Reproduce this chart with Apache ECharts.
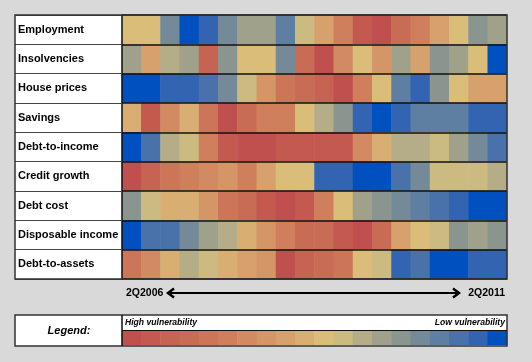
<!DOCTYPE html>
<html><head><meta charset="utf-8">
<script src="https://cdn.jsdelivr.net/npm/echarts/dist/echarts.min.js"></script>
<style>html,body{margin:0;padding:0;background:#d9d9d9}#c{width:532px;height:362px}</style>
</head><body><div id="c"></div><script>
// Rows of the heat table (top to bottom)
const indicators = ['Employment','Insolvencies','House prices','Savings','Debt-to-income','Credit growth','Debt cost','Disposable income','Debt-to-assets'];
// 20 quarterly columns from 2Q2006 (left) to 2Q2011 (right)
const columns = ['c1','c2','c3','c4','c5','c6','c7','c8','c9','c10','c11','c12','c13','c14','c15','c16','c17','c18','c19','c20'];
const periodLabels = ['2Q2006','2Q2011'];
// Vulnerability level: 0 = high vulnerability (red) ... 19 = low vulnerability (blue)
const employment       = [10,10,15,19,18,15,13,13,16,11, 8, 5, 1, 0, 3, 5, 8,10,14,13];
const insolvencies     = [13, 8,12,13, 2,14,10,10,15, 3, 0, 6,10, 7,13, 8,14,13,10,19];
const housePrices      = [19,19,18,18,17,15,11, 7, 4, 3, 2, 0, 5,10,16,18,14,10, 8, 8];
const savings          = [ 9, 1, 6, 9, 4, 0, 3, 5, 5,10,12,14,18,19,18,16,16,16,18,18];
const debtToIncome     = [19,17,12,11, 5, 1, 0, 0, 1, 1, 1, 1, 6, 9,12,12,11,13,15,17];
const creditGrowth     = [ 0, 2, 4, 5, 6, 7, 5, 8,10,10,18,18,19,19,17,15,11,11,11,12];
const debtCost         = [14,11, 9, 9, 7, 4, 3, 1, 0, 1, 5,10,13,14,15,16,17,18,19,19];
const disposableIncome = [19,17,17,15,13,12, 9, 7, 5, 3, 3, 1, 0, 3, 8,10,11,14,13,14];
const debtToAssets     = [ 4, 6, 9,12,11, 9, 8, 7, 0, 2, 3, 4,10,11,18,17,19,19,18,18];
const rows = [employment, insolvencies, housePrices, savings, debtToIncome, creditGrowth, debtCost, disposableIncome, debtToAssets];
// Legend scale steps
const legendSteps = [0,1,2,3,4,5,6,7,8,9,10,11,12,13,14,15,16,17,18,19];
const legendTexts = ['Legend:','High vulnerability','Low vulnerability'];

const palette = ['#c0504d','#c3594f','#c66352','#c96c55','#cc7558','#cf7f5c','#d28a62','#d49567','#d6a16c','#d8ae72',
                 '#d9bd79','#ccbb80','#b5ad87','#a0a18b','#8a9590','#748a99','#5e7fa2','#4a72aa','#3264b2','#0050c0'];

const heatData = [];
rows.forEach((r, yi) => r.forEach((v, xi) => heatData.push([xi, yi, v])));
const legendData = legendSteps.map((v, i) => [i, 0, v]);

const FONT = 'Liberation Sans, Arial, sans-serif';
const chart = echarts.init(document.getElementById('c'), null, {renderer: 'canvas'});
chart.setOption({
  backgroundColor: '#d9d9d9',
  animation: false,
  grid: [
    {left: 122, top: 15, width: 385, height: 264},
    {left: 122, top: 331, width: 385, height: 14}
  ],
  xAxis: [
    {type: 'category', gridIndex: 0, data: columns, axisLine: {show: false}, axisTick: {show: false}, axisLabel: {show: false}, splitLine: {show: false}},
    {type: 'category', gridIndex: 1, data: legendSteps, axisLine: {show: false}, axisTick: {show: false}, axisLabel: {show: false}, splitLine: {show: false}}
  ],
  yAxis: [
    {type: 'category', gridIndex: 0, data: indicators, inverse: true, z: 5,
     axisLine: {show: true, lineStyle: {color: '#111', width: 1.5}},
     axisTick: {show: true, inside: false, length: 107, lineStyle: {color: '#444', width: 1}},
     splitLine: {show: true, lineStyle: {color: '#111', width: 1.5}},
     axisLabel: {align: 'left', margin: 104, padding: [5, 0, 0, 0], color: '#000', fontWeight: 'bold', fontSize: 11, fontFamily: FONT}},
    {type: 'category', gridIndex: 1, data: ['scale'], axisLine: {show: false}, axisTick: {show: false}, axisLabel: {show: false}, splitLine: {show: false}}
  ],
  visualMap: {show: false, type: 'continuous', min: 0, max: 19, inRange: {color: palette}, seriesIndex: [0, 1]},
  series: [
    {type: 'heatmap', xAxisIndex: 0, yAxisIndex: 0, data: heatData, itemStyle: {borderWidth: 0}},
    {type: 'heatmap', xAxisIndex: 1, yAxisIndex: 1, data: legendData, itemStyle: {borderWidth: 0}}
  ],
  graphic: [
    {type: 'rect', z: -10, shape: {x: 15, y: 15, width: 107, height: 264}, style: {fill: '#fff'}},
    {type: 'rect', z: 100, shape: {x: 15, y: 15, width: 492, height: 264}, style: {fill: null, stroke: '#333', lineWidth: 1.5}},
    // time arrow
    {type: 'line', z: 100, shape: {x1: 168, y1: 293, x2: 459, y2: 293}, style: {stroke: '#000', lineWidth: 2}},
    {type: 'polyline', z: 100, shape: {points: [[174, 288.5], [168, 293], [174, 297.5]]}, style: {stroke: '#000', lineWidth: 2.5, fill: null}},
    {type: 'polyline', z: 100, shape: {points: [[453, 288.5], [459, 293], [453, 297.5]]}, style: {stroke: '#000', lineWidth: 2.5, fill: null}},
    {type: 'text', z: 100, style: {x: 126, y: 293.5, text: periodLabels[0], fill: '#000', font: 'bold 10.5px ' + FONT, textAlign: 'left', textVerticalAlign: 'middle'}},
    {type: 'text', z: 100, style: {x: 505, y: 293.5, text: periodLabels[1], fill: '#000', font: 'bold 10.5px ' + FONT, textAlign: 'right', textVerticalAlign: 'middle'}},
    // legend box
    {type: 'rect', z: -10, shape: {x: 15, y: 315, width: 492, height: 31}, style: {fill: '#fff'}},
    {type: 'rect', z: 100, shape: {x: 15, y: 315, width: 492, height: 31}, style: {fill: null, stroke: '#333', lineWidth: 1.5}},
    {type: 'line', z: 100, shape: {x1: 122, y1: 315, x2: 122, y2: 346}, style: {stroke: '#111', lineWidth: 1.5}},
    {type: 'line', z: 100, shape: {x1: 122, y1: 330.5, x2: 507, y2: 330.5}, style: {stroke: '#111', lineWidth: 1.2}},
    {type: 'text', z: 100, style: {x: 69, y: 331, text: legendTexts[0], fill: '#000', font: 'italic bold 11px ' + FONT, textAlign: 'center', textVerticalAlign: 'middle'}},
    {type: 'text', z: 100, style: {x: 125, y: 323, text: legendTexts[1], fill: '#000', font: 'italic bold 8.6px ' + FONT, textAlign: 'left', textVerticalAlign: 'middle'}},
    {type: 'text', z: 100, style: {x: 505, y: 323, text: legendTexts[2], fill: '#000', font: 'italic bold 8.6px ' + FONT, textAlign: 'right', textVerticalAlign: 'middle'}}
  ]
});
</script></body></html>
